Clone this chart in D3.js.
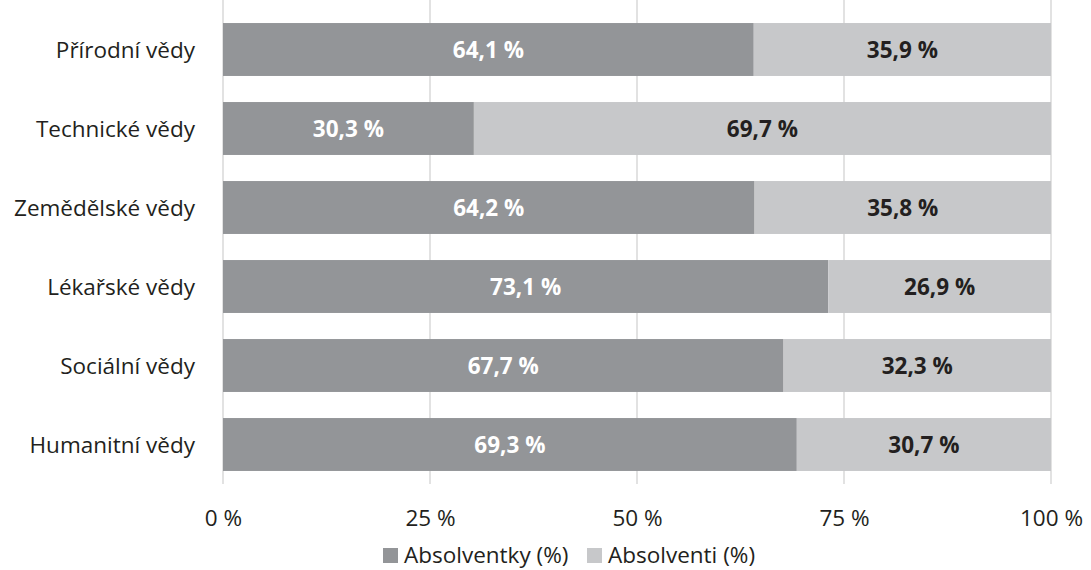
<!DOCTYPE html>
<html><head><meta charset="utf-8">
<script src="https://cdn.jsdelivr.net/npm/d3@7"></script>
<style>body{margin:0;background:#fff}svg{display:block}text{font-family:"Open Sans",sans-serif}</style>
</head><body>
<svg id="c" width="1091" height="570"></svg>
<script>
const categories = ["Přírodní vědy","Technické vědy","Zemědělské vědy","Lékařské vědy","Sociální vědy","Humanitní vědy"];
const women = [64.1,30.3,64.2,73.1,67.7,69.3];
const men = [35.9,69.7,35.8,26.9,32.3,30.7];
const ticks = [0,25,50,75,100];
const seriesNames = ["Absolventky (%)","Absolventi (%)"];
const colors = ["#939598","#c7c8ca"];

const FS = 22.5;
const svg = d3.select("#c");
const x = d3.scaleLinear().domain([0,100]).range([223,1051]);
const y = d3.scaleBand().domain(categories).range([10,484]).paddingInner(0.33).paddingOuter(0.165);
const fmt = v => v.toFixed(1).replace(".", ",") + " %";

svg.append("g").selectAll("line").data(ticks).join("line")
  .attr("x1", d=>x(d)).attr("x2", d=>x(d)).attr("y1",0).attr("y2",484)
  .attr("stroke","#d9d9d9").attr("stroke-width",1.5);

const g = svg.append("g");
categories.forEach((c,i)=>{
  const segs = [{a:0,b:women[i],col:colors[0],tc:"#ffffff",v:women[i]},{a:women[i],b:100,col:colors[1],tc:"#231f20",v:men[i]}];
  segs.forEach(s=>{
    g.append("rect").attr("x",x(s.a)).attr("width",x(s.b)-x(s.a)).attr("y",y(c)).attr("height",y.bandwidth()).attr("fill",s.col);
    g.append("text").attr("x",(x(s.a)+x(s.b))/2).attr("y",y(c)+y.bandwidth()/2+8)
      .attr("text-anchor","middle").attr("font-weight","bold").attr("font-size",FS).attr("fill",s.tc).text(fmt(s.v));
  });
});

const yAxis = d3.axisLeft(y).tickSize(0).tickPadding(28);
const ya = svg.append("g").attr("transform","translate(223,0)").call(yAxis);
ya.select(".domain").remove();
ya.selectAll("text").attr("font-size",FS).attr("fill","#231f20").attr("dy",null).attr("y",8).style("font-family","'Open Sans',sans-serif");

const xAxis = d3.axisBottom(x).tickValues(ticks).tickSize(0).tickPadding(0).tickFormat(d=>d+" %");
const xa = svg.append("g").attr("transform","translate(0,0)").call(xAxis);
xa.select(".domain").remove();
xa.selectAll("text").attr("font-size",FS).attr("fill","#231f20").attr("dy",null).attr("y",526).style("font-family","'Open Sans',sans-serif");

const leg = svg.append("g");
const legX = [383,587];
seriesNames.forEach((n,i)=>{
  leg.append("rect").attr("x",legX[i]).attr("y",548).attr("width",15).attr("height",15).attr("fill",colors[i]);
  leg.append("text").attr("x",legX[i]+21).attr("y",563).attr("font-size",FS).attr("fill","#231f20").text(n);
});
</script>
</body></html>
